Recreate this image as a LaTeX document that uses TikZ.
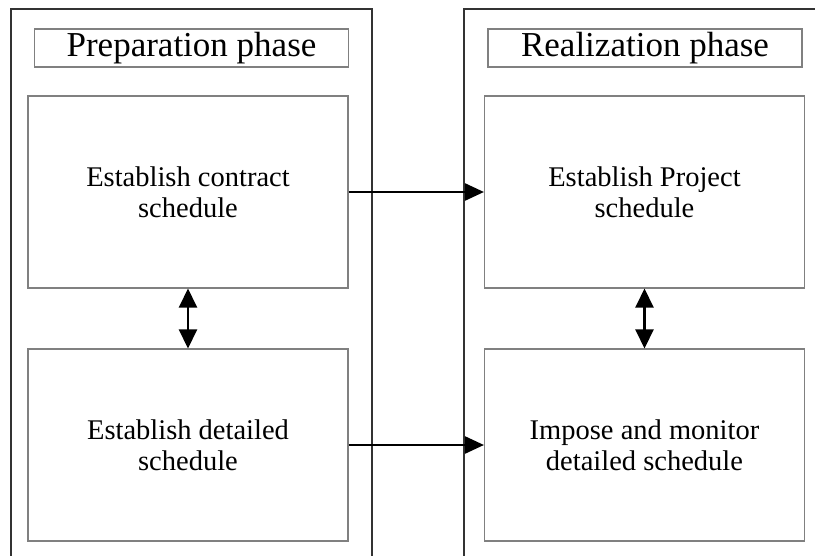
\documentclass[tikz,border=0pt]{standalone}
\usepackage{fontspec}
\setmainfont{Liberation Serif}
\usetikzlibrary{arrows.meta}
\begin{document}
\begin{tikzpicture}[x=1pt,y=-1pt,
  panel/.style={draw=black!80, line width=1.4pt},
  titlebox/.style={draw=black!50, line width=1.1pt, inner sep=0pt,
    minimum width=314pt, minimum height=38pt, font=\fontsize{35}{38}\selectfont},
  stagebox/.style={draw=black!50, line width=1.1pt, inner sep=0pt, align=center,
    minimum width=320pt, minimum height=192pt, font=\fontsize{28.5}{30.5}\selectfont},
  flow/.style={line width=2.5pt, -{Triangle[length=19pt,width=17pt]}},
  link/.style={line width=2.5pt, {Triangle[length=19pt,width=18pt]}-{Triangle[length=19pt,width=18pt]}}]
\useasboundingbox (0,0) rectangle (815,555);
\clip (0,0) rectangle (815,555);
\fill[white] (0,0) rectangle (815,555);
% phase panels (open at the bottom of the page)
\draw[panel] (11,9) rectangle (372,580);
\draw[panel] (464,9) rectangle (840,580);
% phase titles
\node[titlebox] (prep) at (191.5,48) {Preparation phase};
\node[titlebox] (real) at (645,48) {Realization phase};
% stages
\node[stagebox] (contract) at (188,192) {Establish contract\\schedule};
\node[stagebox] (detailed) at (188,445) {Establish detailed\\schedule};
\node[stagebox] (project) at (644.5,192) {Establish Project\\schedule};
\node[stagebox] (impose) at (644.5,445) {Impose and monitor\\detailed schedule};
% connectors
\draw[flow] (contract.east) -- (project.west);
\draw[flow] (detailed.east) -- (impose.west);
\draw[link] (contract.south) -- (detailed.north);
\draw[link] (project.south) -- (impose.north);
\end{tikzpicture}
\end{document}
